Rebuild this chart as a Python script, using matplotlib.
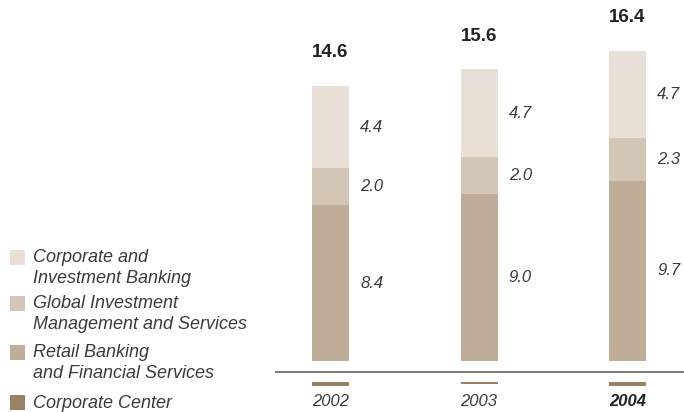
import matplotlib
matplotlib.use("Agg")
import matplotlib.pyplot as plt
from matplotlib.patches import Rectangle
import numpy as np

# Data (in billions)
years = ["2002", "2003", "2004"]
retail = [8.4, 9.0, 9.7]
global_inv = [2.0, 2.0, 2.3]
corp_inv = [4.4, 4.7, 4.7]
corp_center = [-0.2, -0.1, -0.2]
totals = [14.6, 15.6, 16.4]

legend_labels = [
    "Corporate and\nInvestment Banking",
    "Global Investment\nManagement and Services",
    "Retail Banking\nand Financial Services",
    "Corporate Center",
]

c_cib = "#e8e0d7"
c_gim = "#d4c6b5"
c_rbf = "#c0ad97"
c_cc = "#9a8165"
txt = "#3a3a3a"

plt.rcParams["font.family"] = ["Liberation Sans", "DejaVu Sans"]

W, H = 684, 412
fig = plt.figure(figsize=(W / 100, H / 100), dpi=100)
ax = fig.add_axes([0, 0, 1, 1])

# pixel geometry of the plotting area
px_per_bar = 148.5
x0_px = 330.5
px_per_unit = 18.57
zero_px = 361.0  # from top

ax.set_xlim(-x0_px / px_per_bar, (W - x0_px) / px_per_bar)
ax.set_ylim(-(H - zero_px) / px_per_unit, zero_px / px_per_unit)
ax.axis("off")

x = np.arange(len(years))
bw = 37 / px_per_bar

r = np.array(retail)
g = np.array(global_inv)
c = np.array(corp_inv)
ax.bar(x, r, bw, color=c_rbf, linewidth=0)
ax.bar(x, g, bw, bottom=r, color=c_gim, linewidth=0)
ax.bar(x, c, bw, bottom=r + g, color=c_cib, linewidth=0)

# baseline rule
axis_y = -11 / px_per_unit
ax.plot([(275 - x0_px) / px_per_bar, (W - x0_px) / px_per_bar], [axis_y, axis_y],
        color="#6f6f6f", lw=1.3, solid_capstyle="butt")

# corporate center shown below the rule
cc_top = -21 / px_per_unit
ax.bar(x, corp_center, bw, bottom=cc_top, color=c_cc, linewidth=0)

# segment value labels
for i in range(len(years)):
    bottoms = [0, r[i], r[i] + g[i]]
    for val, b in zip([r[i], g[i], c[i]], bottoms):
        ax.annotate(f"{val:.1f}", xy=(x[i] + bw / 2, b + val / 2),
                    xytext=(8, 0), textcoords="offset points",
                    ha="left", va="center", fontsize=12, style="italic",
                    color=txt)
    top = r[i] + g[i] + c[i]
    ax.annotate(f"{totals[i]:.1f}", xy=(x[i], top), xytext=(0, 24),
                textcoords="offset points", ha="center", va="center",
                fontsize=13.5, fontweight="bold", color="#222222")
    ax.text(x[i], -41 / px_per_unit, years[i], ha="center", va="center",
            fontsize=12, style="italic",
            fontweight="bold" if i == len(years) - 1 else "normal",
            color="#222222" if i == len(years) - 1 else txt)

# legend drawn in pixel coordinates
def fy(py):
    return 1 - py / H

legend_colors = [c_cib, c_gim, c_rbf, c_cc]
legend_y = [257, 303, 352, 402.5]
for lab, col, py in zip(legend_labels, legend_colors, legend_y):
    fig.patches.append(Rectangle((10 / W, fy(py + 7.5)), 15 / W, 15 / H,
                                 transform=fig.transFigure, color=col, lw=0))
    fig.text(33 / W, fy(py - 8), lab, ha="left", va="top", fontsize=13,
             style="italic", color=txt, linespacing=1.28)

fig.savefig("out.png", dpi=100)
